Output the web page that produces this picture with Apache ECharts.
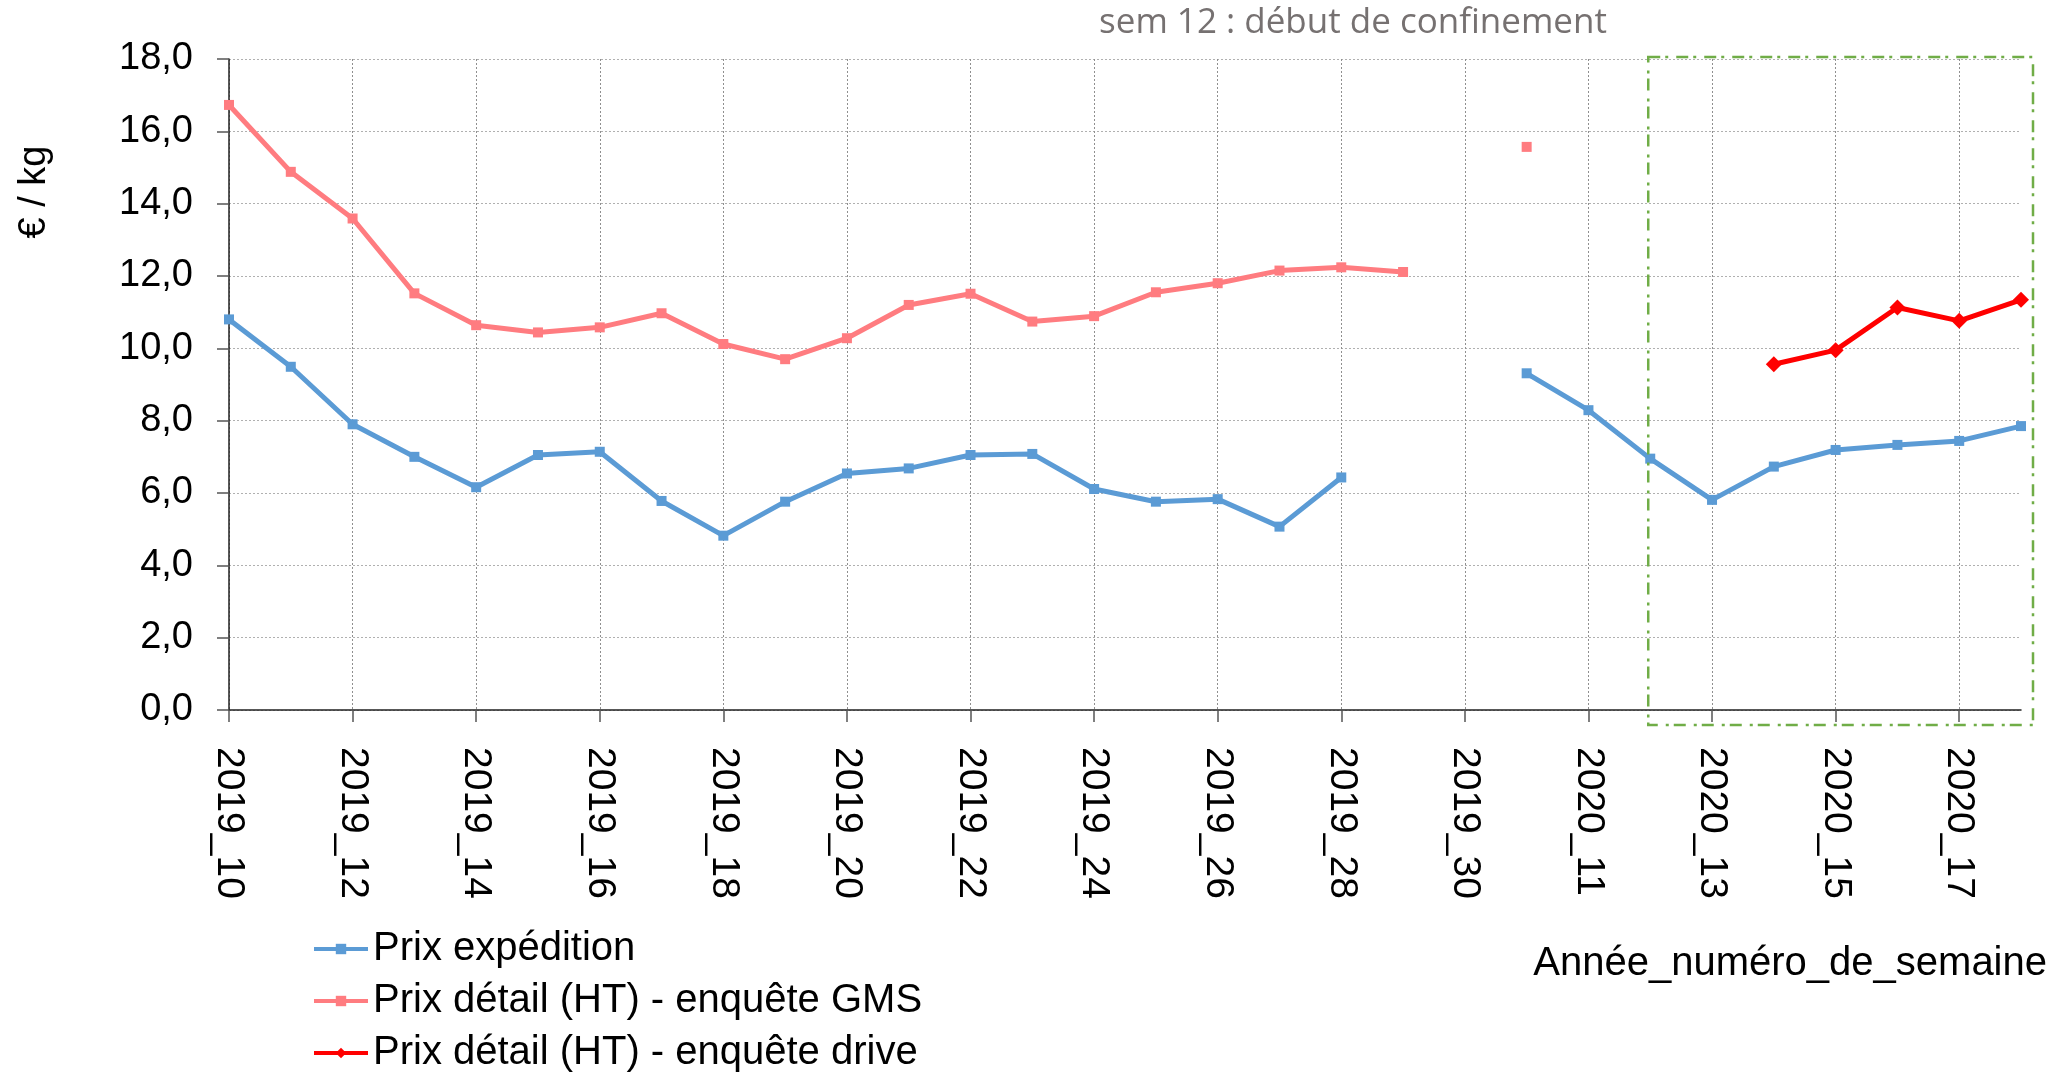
<!DOCTYPE html>
<html>
<head>
<meta charset="utf-8">
<script src="https://cdn.jsdelivr.net/npm/echarts@6/dist/echarts.min.js"></script>
<style>
html,body{margin:0;padding:0;background:#fff;}
#chart{width:2066px;height:1074px;}
</style>
</head>
<body>
<div id="chart"></div>
<script>
const categories = ['2019_10','2019_11','2019_12','2019_13','2019_14','2019_15','2019_16','2019_17','2019_18','2019_19',
  '2019_20','2019_21','2019_22','2019_23','2019_24','2019_25','2019_26','2019_27','2019_28','2019_29','2019_30',
  '2020_10','2020_11','2020_12','2020_13','2020_14','2020_15','2020_16','2020_17','2020_18'];
const prixExpedition = [10.80, 9.49, 7.90, 7.00, 6.16, 7.05, 7.14, 5.78, 4.82, 5.76,
  6.54, 6.68, 7.05, 7.08, 6.11, 5.76, 5.83, 5.07, 6.43, null, null,
  9.31, 8.29, 6.95, 5.81, 6.73, 7.19, 7.33, 7.44, 7.85];
const prixGMS = [16.73, 14.88, 13.59, 11.52, 10.64, 10.44, 10.58, 10.97, 10.12, 9.70,
  10.28, 11.20, 11.51, 10.74, 10.89, 11.55, 11.80, 12.15, 12.24, 12.11, null,
  15.57, null, null, null, null, null, null, null, null];
const prixDrive = [null, null, null, null, null, null, null, null, null, null,
  null, null, null, null, null, null, null, null, null, null, null,
  null, null, null, null, 9.56, 9.95, 11.13, 10.76, 11.34];
const seriesNames = ['Prix expédition', 'Prix détail (HT) - enquête GMS', 'Prix détail (HT) - enquête drive'];
const yTicks = {min: 0, max: 18, interval: 2};
const annotationText = 'sem 12 : début de confinement';
const xAxisTitle = 'Année_numéro_de_semaine';
const yAxisTitle = '€ / kg';
const confinementStart = '2020_12';

const FONT = '"Liberation Sans", Arial, sans-serif';
const chart = echarts.init(document.getElementById('chart'));

const option = {
  animation: false,
  backgroundColor: '#fff',
  grid: {left: 229, right: 45, top: 59, bottom: 364, containLabel: false},
  legend: {
    orient: 'vertical',
    left: 312, top: 929, padding: 0,
    itemWidth: 54, itemHeight: 13, itemGap: 12,
    lineStyle: {width: 4},
    textStyle: {fontFamily: FONT, fontSize: 40, color: '#000', lineHeight: 40},
    data: seriesNames
  },
  xAxis: {
    type: 'category',
    data: categories,
    boundaryGap: false,
    axisLine: {show: true, lineStyle: {color: '#222', width: 1.5}},
    axisTick: {show: true, interval: 1, length: 12, lineStyle: {color: '#555', width: 1.5}},
    axisLabel: {interval: 1, rotate: -90, margin: 37, fontFamily: FONT, fontSize: 39, color: '#000'},
    splitLine: {show: true, interval: 1, lineStyle: {type: [2, 2], color: '#8f8f8f', width: 1}}
  },
  yAxis: {
    type: 'value',
    min: yTicks.min, max: yTicks.max, interval: yTicks.interval,
    axisLine: {show: true, lineStyle: {color: '#222', width: 1.5}},
    axisTick: {show: true, length: 12, lineStyle: {color: '#555', width: 1.5}},
    axisLabel: {margin: 36, fontFamily: FONT, fontSize: 38, color: '#000',
      formatter: v => v.toFixed(1).replace('.', ',')},
    splitLine: {show: true, lineStyle: {type: [2, 2], color: '#b0b0b0', width: 1}}
  },
  series: [
    {name: seriesNames[0], type: 'line', data: prixExpedition, symbol: 'rect', symbolSize: 10,
      showAllSymbol: true, connectNulls: false,
      lineStyle: {color: '#5b9bd5', width: 5}, itemStyle: {color: '#5b9bd5'}, z: 3},
    {name: seriesNames[1], type: 'line', data: prixGMS, symbol: 'rect', symbolSize: 10,
      showAllSymbol: true, connectNulls: false,
      lineStyle: {color: '#ff7c80', width: 5}, itemStyle: {color: '#ff7c80'}, z: 3},
    {name: seriesNames[2], type: 'line', data: prixDrive, symbol: 'diamond', symbolSize: 16,
      showAllSymbol: true, connectNulls: false,
      lineStyle: {color: '#ff0000', width: 5}, itemStyle: {color: '#ff0000'}, z: 4}
  ],
  graphic: [
    {type: 'text', id: 'annot', x: 1353, y: 23,
      style: {text: annotationText, fill: '#767171', font: '35px "Open Sans", sans-serif',
        textAlign: 'center', textVerticalAlign: 'middle'}},
    {type: 'text', id: 'xname', x: 2047, y: 964,
      style: {text: xAxisTitle, fill: '#000', font: '40px ' + FONT,
        textAlign: 'right', textVerticalAlign: 'middle'}},
    {type: 'text', id: 'yname', x: 35, y: 192, rotation: Math.PI / 2,
      style: {text: yAxisTitle, fill: '#000', font: '38px ' + FONT,
        textAlign: 'center', textVerticalAlign: 'middle'}}
  ]
};
chart.setOption(option);

const lastCat = categories[categories.length - 1];
const p1 = chart.convertToPixel({xAxisIndex: 0, yAxisIndex: 0}, [confinementStart, yTicks.max]);
const p2 = chart.convertToPixel({xAxisIndex: 0, yAxisIndex: 0}, [lastCat, yTicks.min]);
const rx = p1[0] - 2, ry = p1[1] - 2;
chart.setOption({
  graphic: [
    {type: 'rect', id: 'confinement', z: 10, silent: true,
      shape: {x: rx, y: ry, width: (p2[0] + 12) - rx, height: (p2[1] + 15) - ry},
      style: {fill: 'none', stroke: '#70ad47', lineWidth: 2.5, lineDash: [12, 5, 3, 8]}}
  ]
});
</script>
</body>
</html>
